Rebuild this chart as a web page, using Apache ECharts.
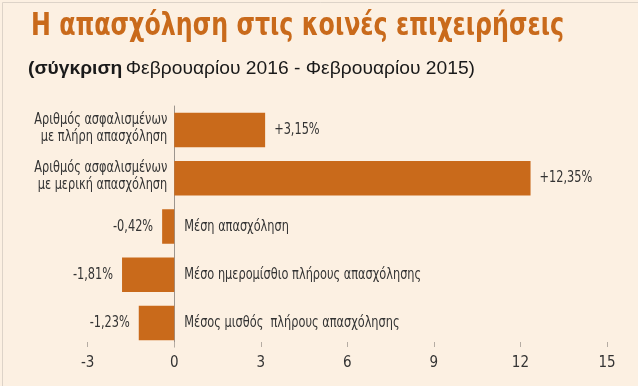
<!DOCTYPE html>
<html>
<head>
<meta charset="utf-8">
<script src="https://cdn.jsdelivr.net/npm/echarts@6/dist/echarts.min.js"></script>
<style>
html,body{margin:0;padding:0;background:#FCF0E2;}
#c{width:638px;height:386px;}
</style>
</head>
<body>
<div id="c"></div>
<script>
const titleText = 'Η απασχόληση στις κοινές επιχειρήσεις';
const subtitleBold = '(σύγκριση';
const subtitleRest = 'Φεβρουαρίου 2016 - Φεβρουαρίου 2015)';
const categories = [
  'Αριθμός ασφαλισμένων\nμε πλήρη απασχόληση',
  'Αριθμός ασφαλισμένων\nμε μερική απασχόληση',
  'Μέση απασχόληση',
  'Μέσο ημερομίσθιο πλήρους απασχόλησης',
  'Μέσος μισθός  πλήρους απασχόλησης'
];
const values = [3.15, 12.35, -0.42, -1.81, -1.23];
const xTicks = [-3, 0, 3, 6, 9, 12, 15];

const FONT = '"DejaVu Sans Condensed", "DejaVu Sans", sans-serif';
const SUBFONT = '"Liberation Sans", sans-serif';
const BAR = '#C96A1B';
const TEXT = '#333333';

function fmt(v) {
  return (v > 0 ? '+' : '') + v.toFixed(2).replace('.', ',') + '%';
}

// measure helpers to horizontally condense texts to the reference widths
const mctx = document.createElement('canvas').getContext('2d');
function textWidth(str, font) { mctx.font = font; return mctx.measureText(str).width; }
const titleScale = 533 / textWidth(titleText, 'bold 32px ' + FONT);
const subW = textWidth(subtitleBold + ' ', 'bold 19px ' + SUBFONT) + textWidth(subtitleRest, '19px ' + SUBFONT);
const subScale = Math.min(1.1, 449 / subW);
const labelScale = 133 / textWidth('Αριθμός ασφαλισμένων', '16px ' + FONT);

const chart = echarts.init(document.getElementById('c'), null, {renderer: 'canvas'});
const baseGraphic = [
  {
    type: 'rect', left: 0, top: 0, z: -1, silent: true,
    shape: {width: 637, height: 385},
    style: {fill: 'none', stroke: '#ddd3c8', lineWidth: 1}
  },
  {
    type: 'text', x: 31, y: 27, scaleX: titleScale, silent: true,
    style: {
      text: titleText, x: 0, y: 0,
      fontFamily: FONT, fontWeight: 'bold', fontSize: 32,
      fill: BAR, align: 'left', verticalAlign: 'middle'
    }
  },
  {
    type: 'text', x: 28, y: 69, scaleX: subScale, silent: true,
    style: {
      text: '{b|' + subtitleBold + '} {r|' + subtitleRest + '}',
      x: 0, y: 0, align: 'left', verticalAlign: 'middle',
      rich: {
        b: {fontFamily: SUBFONT, fontWeight: 'bold', fontSize: 19, fill: '#1a1a1a'},
        r: {fontFamily: SUBFONT, fontWeight: 'normal', fontSize: 19, fill: '#1a1a1a'}
      }
    }
  }
];

chart.setOption({
  backgroundColor: '#FCF0E2',
  animation: false,
  graphic: baseGraphic,
  grid: {left: 87.7, right: 31, top: 106, bottom: 39, containLabel: false},
  xAxis: {
    type: 'value',
    min: xTicks[0], max: xTicks[xTicks.length - 1], interval: 3,
    axisLine: {show: false},
    axisTick: {show: true, inside: true, length: 5, lineStyle: {color: '#b5aca3'}},
    splitLine: {show: false},
    axisLabel: {fontFamily: FONT, fontSize: 15, color: TEXT, margin: 9}
  },
  yAxis: {
    type: 'category',
    inverse: true,
    data: categories,
    axisLine: {show: true, onZero: true, lineStyle: {color: '#9c958e', width: 1}},
    axisTick: {show: false},
    axisLabel: {show: false}
  },
  series: [
    {
      type: 'bar',
      data: values,
      barWidth: 34.5,
      itemStyle: {color: BAR},
      label: {show: false}
    }
  ]
});

// labels placed through the chart's own scales, condensed horizontally like the reference font
const x0 = chart.convertToPixel({xAxisIndex: 0}, 0);
const labelGraphics = [];
values.forEach((v, i) => {
  const yc = chart.convertToPixel({yAxisIndex: 0}, i);
  const xv = chart.convertToPixel({xAxisIndex: 0}, v);
  const pos = v >= 0;
  const multi = categories[i].indexOf('\n') >= 0;
  labelGraphics.push({
    type: 'text', x: pos ? xv + 9 : xv - 9, y: yc, scaleX: labelScale, silent: true,
    style: {
      text: fmt(v), x: 0, y: 0, align: pos ? 'left' : 'right', verticalAlign: 'middle',
      fontFamily: FONT, fontSize: 16, fill: TEXT
    }
  });
  labelGraphics.push({
    type: 'text', x: pos ? x0 - 7 : x0 + 10, y: multi ? yc - 1.5 : yc, scaleX: labelScale, silent: true,
    style: {
      text: categories[i], x: 0, y: 0, align: pos ? 'right' : 'left', verticalAlign: 'middle',
      fontFamily: FONT, fontSize: 16, lineHeight: 17, fill: TEXT
    }
  });
});
chart.setOption({graphic: baseGraphic.concat(labelGraphics)}, {replaceMerge: ['graphic']});
</script>
</body>
</html>
